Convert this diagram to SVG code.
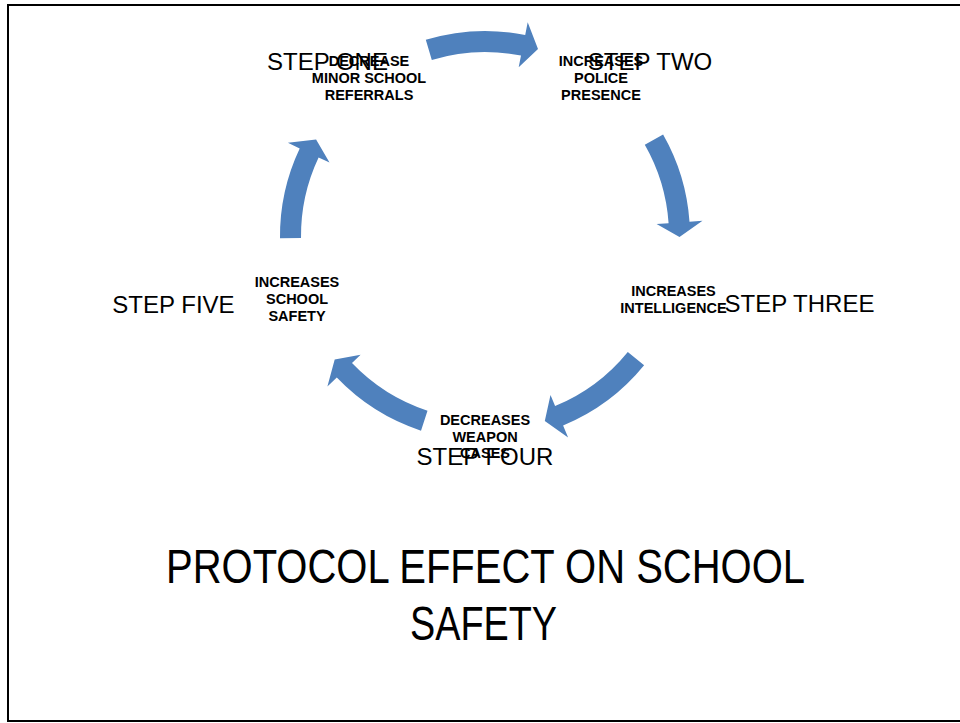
<svg xmlns="http://www.w3.org/2000/svg" width="960" height="723" viewBox="0 0 960 723">
<style>
.frame{fill:none;stroke:#000;stroke-width:2}
.arrow{fill:#4F81BD;stroke:none}
.step{font-family:"Liberation Sans",Arial,sans-serif;font-size:24px;fill:#000;text-anchor:middle}
.lbl{font-family:"Liberation Sans",Arial,sans-serif;font-size:14.5px;font-weight:bold;fill:#000;text-anchor:middle}
.title{font-family:"Liberation Sans",Arial,sans-serif;font-size:48px;fill:#000;text-anchor:middle}
</style>
<rect x="0" y="0" width="960" height="723" fill="#fff"/>
<path class="frame" d="M961 5H8V721H961"/>
<g id="connectors">
<path class="arrow" d="M425.8 39.8A205 205 0 0 1 525.2 35L527.7 22.2L538 48.9L518.7 67.3L521 55.6A184 184 0 0 0 431.8 59.9Z"/>
<path class="arrow" d="M663.1 134.4A205 205 0 0 1 689.5 221.7L702.5 220.8L679.5 237L656.6 224L668.6 223.2A184 184 0 0 0 644.8 144.8Z"/>
<path class="arrow" d="M644.1 365.3A205 205 0 0 1 563.1 425.5L568.1 437.5L544.8 421.1L550.5 395L555.1 406.1A184 184 0 0 0 627.8 352Z"/>
<path class="arrow" d="M421 430.7A205 205 0 0 1 336.8 377.6L327.4 386.6L334.7 359.5L360.6 354.8L352 363.1A184 184 0 0 0 427.5 410.8Z"/>
<path class="arrow" d="M280 238.2A205 205 0 0 1 299.7 148.4L287.9 142.8L316.1 139.6L329.5 162.5L318.6 157.4A184 184 0 0 0 301 237.9Z"/>
</g>
<g id="step1">
<text class="step" x="327.5" y="70">STEP ONE</text>
<text class="lbl" x="369" y="66">DECREASE</text>
<text class="lbl" x="369" y="83">MINOR SCHOOL</text>
<text class="lbl" x="369" y="100">REFERRALS</text>
</g>
<g id="step2">
<text class="step" x="650" y="70">STEP TWO</text>
<text class="lbl" x="601" y="66">INCREASES</text>
<text class="lbl" x="601" y="83">POLICE</text>
<text class="lbl" x="601" y="100">PRESENCE</text>
</g>
<g id="step3">
<text class="step" x="799.5" y="312">STEP THREE</text>
<text class="lbl" x="673.5" y="296">INCREASES</text>
<text class="lbl" x="673.5" y="313">INTELLIGENCE</text>
</g>
<g id="step4">
<text class="step" x="485" y="465">STEP FOUR</text>
<text class="lbl" x="485" y="425">DECREASES</text>
<text class="lbl" x="485" y="442">WEAPON</text>
<text class="lbl" x="485" y="458">CASES</text>
</g>
<g id="step5">
<text class="step" x="173.5" y="313">STEP FIVE</text>
<text class="lbl" x="297" y="287">INCREASES</text>
<text class="lbl" x="297" y="304">SCHOOL</text>
<text class="lbl" x="297" y="320.5">SAFETY</text>
</g>
<g id="title">
<text class="title" x="485.5" y="583" textLength="639" lengthAdjust="spacingAndGlyphs">PROTOCOL EFFECT ON SCHOOL</text>
<text class="title" x="483.5" y="640" textLength="147" lengthAdjust="spacingAndGlyphs">SAFETY</text>
</g>
</svg>
